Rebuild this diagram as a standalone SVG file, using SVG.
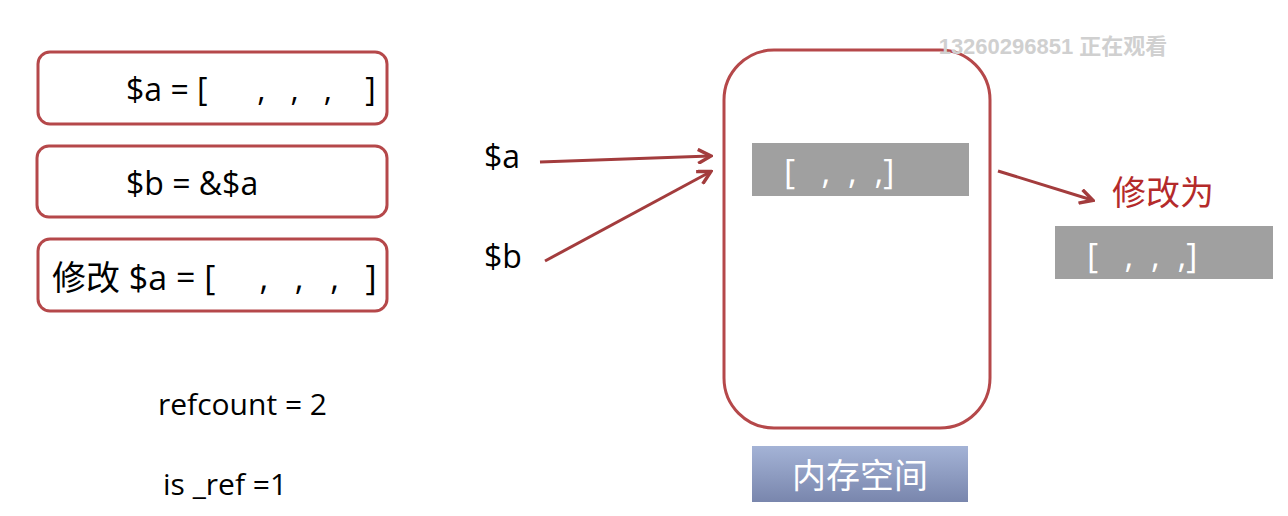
<svg xmlns="http://www.w3.org/2000/svg" width="1288" height="516" viewBox="0 0 1288 516">
<style>
text{white-space:pre}
.box{fill:#fff;stroke:#b5484a;stroke-width:3}
.t{font-family:"Open Sans","Noto Sans","Noto Sans CJK SC",sans-serif;fill:#000}
.w{font-family:"Open Sans","Noto Sans CJK SC",sans-serif;fill:#fff}
.c{stroke:#a33c3d;stroke-width:3;fill:none;marker-end:url(#ah)}
</style>
<defs>
<marker id="ah" markerWidth="16" markerHeight="16" refX="13" refY="8" orient="auto" markerUnits="userSpaceOnUse" viewBox="0 0 16 16"><path d="M1,1 L14,8 L1,15" fill="none" stroke="#a33c3d" stroke-width="3.5"/></marker>
<linearGradient id="bg" x1="0" y1="0" x2="0" y2="1"><stop offset="0" stop-color="#a4b3d6"/><stop offset="1" stop-color="#7986ad"/></linearGradient>
</defs>
<rect width="1288" height="516" fill="#fff"/>
<g id="n1"><rect class="box" x="38" y="52" width="349" height="72" rx="12"/><text class="t" x="126" y="101" font-size="32">$a = [      ,   ,   ,    ]</text></g>
<g id="n2"><rect class="box" x="37" y="146" width="350" height="71" rx="12"/><text class="t" x="126" y="195" font-size="32">$b = &amp;$a</text></g>
<g id="n3"><rect class="box" x="38" y="239" width="349" height="72" rx="12"/><text class="t" x="52" y="290" font-size="34">修改 $a = [     ,   ,   ,   ]</text></g>
<g id="refcount"><text class="t" x="158" y="415" font-size="30">refcount = 2</text></g>
<g id="isref"><text class="t" x="163" y="495" font-size="30">is _ref =1</text></g>
<g id="va"><text class="t" x="484" y="168" font-size="32">$a</text></g>
<g id="vb"><text class="t" x="484" y="268" font-size="32">$b</text></g>
<g id="mem"><rect class="box" x="724" y="50" width="266" height="378" rx="50"/>
<rect x="752" y="143" width="217" height="53" fill="#a0a0a0"/><text class="w" x="784" y="184" font-size="34">[   ,  ,  ,]</text></g>
<g id="label"><rect x="752" y="446" width="216" height="56" fill="url(#bg)"/><text class="w" x="860" y="488" font-size="34" text-anchor="middle">内存空间</text></g>
<g id="mod"><text x="1112" y="205" font-size="34" fill="#b42a2a" font-family="Noto Sans CJK SC,sans-serif">修改为</text></g>
<g id="newarr"><rect x="1055" y="226" width="218" height="53" fill="#a0a0a0"/><text class="w" x="1087" y="268" font-size="34">[   ,  ,  ,]</text></g>
<g id="wm"><text x="1053" y="54" font-size="22" font-weight="bold" fill="#d0d0d0" text-anchor="middle" font-family="Liberation Sans,Noto Sans CJK SC,sans-serif">13260296851 正在观看</text></g>
<g id="connectors">
<path class="c" d="M540,162 L710,156"/>
<path class="c" d="M545,261 L710,172"/>
<path class="c" d="M998,171 L1092,200"/>
</g>
</svg>
